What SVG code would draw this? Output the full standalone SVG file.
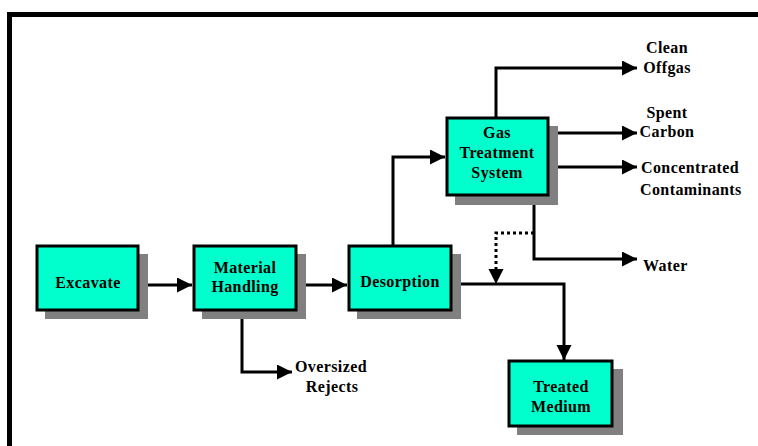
<svg xmlns="http://www.w3.org/2000/svg" width="758" height="446" viewBox="0 0 758 446">
  <style>
    .box { fill: #00FFCC; stroke: #000; stroke-width: 3; }
    .shadow { fill: #808080; }
    .lbl { font-family: "Liberation Serif", "Times New Roman", serif; font-weight: bold; font-size: 16px; letter-spacing: 0.4px; fill: #000; }
    .mid { text-anchor: middle; }
    .flow { fill: none; stroke: #000; stroke-width: 3; }
    .dot { fill: none; stroke: #000; stroke-width: 3; stroke-dasharray: 3 3; }
  </style>
  <defs>
    <marker id="arrow" markerUnits="userSpaceOnUse" markerWidth="16" markerHeight="16" refX="15" refY="7.5" orient="auto">
      <path d="M0,0 L15,7.5 L0,15 Z" fill="#000"/>
    </marker>
  </defs>

  <rect width="758" height="446" fill="#fff"/>
  <!-- frame -->
  <g id="frame">
    <rect x="7" y="12" width="751" height="5" fill="#000"/>
    <rect x="7" y="12" width="5" height="434" fill="#000"/>
  </g>

  <!-- connectors -->
  <g id="connectors">
    <path class="flow" d="M138,285 H192" marker-end="url(#arrow)"/>
    <path class="flow" d="M296,285 H347" marker-end="url(#arrow)"/>
    <path class="flow" d="M242,310 V372 H292" marker-end="url(#arrow)"/>
    <path class="flow" d="M393,246 V157 H445" marker-end="url(#arrow)"/>
    <path class="flow" d="M496,118 V68 H637" marker-end="url(#arrow)"/>
    <path class="flow" d="M548,133 H637" marker-end="url(#arrow)"/>
    <path class="flow" d="M548,167 H637" marker-end="url(#arrow)"/>
    <path class="flow" d="M534,195 V259 H637" marker-end="url(#arrow)"/>
    <path class="flow" d="M451,284 H564 V360" marker-end="url(#arrow)"/>
    <path class="dot" d="M534,233 H496 V270"/>
    <path d="M488.5,269 L503.5,269 L496,284 Z" fill="#000"/>
  </g>

  <!-- nodes -->
  <g id="excavate">
    <rect class="shadow" x="45" y="254" width="103" height="65"/>
    <rect class="box" x="37" y="246" width="101" height="64"/>
    <text class="lbl mid" x="88" y="288">Excavate</text>
  </g>
  <g id="material-handling">
    <rect class="shadow" x="202" y="254" width="104" height="65"/>
    <rect class="box" x="194" y="246" width="102" height="64"/>
    <text class="lbl mid" x="245" y="273">Material</text>
    <text class="lbl mid" x="245" y="292">Handling</text>
  </g>
  <g id="desorption">
    <rect class="shadow" x="357" y="254" width="104" height="65"/>
    <rect class="box" x="349" y="246" width="102" height="64"/>
    <text class="lbl mid" x="400" y="287">Desorption</text>
  </g>
  <g id="gas-treatment">
    <rect class="shadow" x="455" y="126" width="103" height="79"/>
    <rect class="box" x="447" y="118" width="101" height="77"/>
    <text class="lbl mid" x="497" y="138">Gas</text>
    <text class="lbl mid" x="497" y="158">Treatment</text>
    <text class="lbl mid" x="497" y="178">System</text>
  </g>
  <g id="treated-medium">
    <rect class="shadow" x="517" y="369" width="106" height="66"/>
    <rect class="box" x="509" y="361" width="103" height="65"/>
    <text class="lbl mid" x="561" y="392">Treated</text>
    <text class="lbl mid" x="561" y="412">Medium</text>
  </g>

  <!-- output labels -->
  <g id="outputs">
    <text class="lbl mid" x="667" y="53">Clean</text>
    <text class="lbl mid" x="667" y="73">Offgas</text>
    <text class="lbl mid" x="667" y="118">Spent</text>
    <text class="lbl mid" x="667" y="137">Carbon</text>
    <text class="lbl" x="641" y="173">Concentrated</text>
    <text class="lbl" x="640" y="195">Contaminants</text>
    <text class="lbl" x="643" y="271">Water</text>
    <text class="lbl mid" x="331" y="372">Oversized</text>
    <text class="lbl mid" x="332" y="392">Rejects</text>
  </g>
</svg>
